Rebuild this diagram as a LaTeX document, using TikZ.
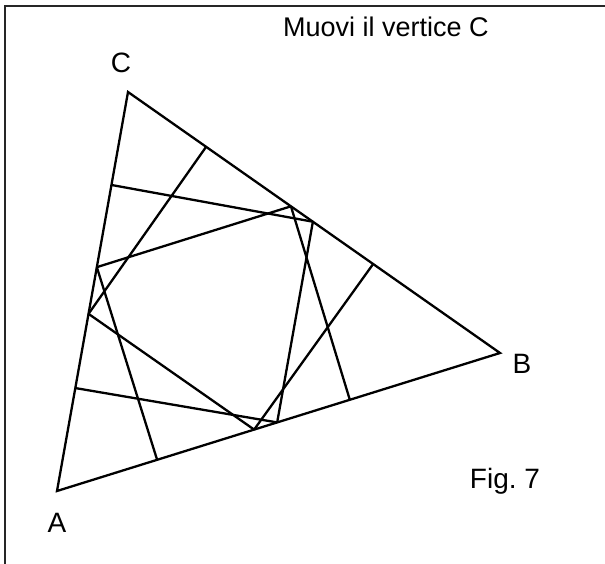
\documentclass[tikz,border=0pt]{standalone}
\usepackage{fontspec}
\setmainfont{Liberation Sans}
\usetikzlibrary{calc}
\begin{document}
\begin{tikzpicture}[x=1pt,y=-1pt,line width=2.3pt,
  etichetta/.style={font=\fontsize{28}{32}\selectfont,inner sep=0pt,anchor=base}]

\useasboundingbox (0,0) rectangle (605,564);

% Cornice
\draw[line width=1.3pt,black!85] (5,564) -- (5,6) -- (605,6);

% Triangolo ABC
\coordinate (A) at (57,491);
\coordinate (B) at (500,353);
\coordinate (C) at (128,92);
\draw (A) -- (B) -- (C) -- cycle;

% Punti sui lati
\foreach \n/\t in {1/0.233,2/0.439,3/0.556,4/0.742}
{
\coordinate (P\n) at ($(C)!\t!(A)$);
}
\foreach \n/\t in {1/0.210,2/0.438,3/0.497,4/0.659}
{
\coordinate (Q\n) at ($(C)!\t!(B)$);
}
\foreach \n/\t in {1/0.226,2/0.445,3/0.497,4/0.661}
{
\coordinate (R\n) at ($(A)!\t!(B)$);
}

% Segmenti interni
\foreach \a/\b in {
P1/Q3,Q3/R3,R3/P4,
P2/Q2,Q2/R4,P2/R1,
Q1/P3,P3/R2,R2/Q4%
}
{
\draw (\a) -- (\b);
}

% Etichette
\node[etichetta] (lA) at (57,532) {A};
\node[etichetta] (lB) at (522,373) {B};
\node[etichetta] (lC) at (121,73) {C};

\node[etichetta,font=\fontsize{27}{30}\selectfont] (titolo) at (386,37)
{Muovi il vertice C};

\node[etichetta] (fig) at (505,488)
{Fig.\ 7};

\end{tikzpicture}
\end{document}
